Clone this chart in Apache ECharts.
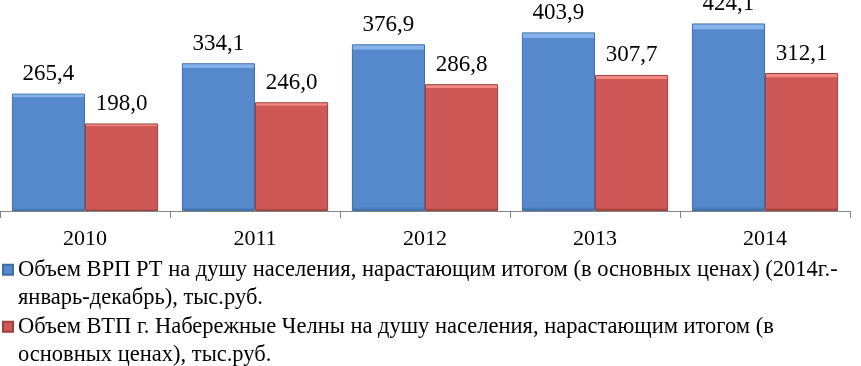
<!DOCTYPE html>
<html>
<head>
<meta charset="utf-8">
<script src="https://cdn.jsdelivr.net/npm/echarts@6/dist/echarts.min.js"></script>
<style>
html,body{margin:0;padding:0;background:#fff;}
#chart{width:861px;height:366px;}
</style>
</head>
<body>
<div id="chart"></div>
<script>
var categories = ['2010', '2011', '2012', '2013', '2014'];
var seriesNames = [
  'Объем ВРП РТ на душу населения, нарастающим итогом (в основных ценах) (2014г.-январь-декабрь), тыс.руб.',
  'Объем ВТП г. Набережные Челны на душу населения, нарастающим итогом (в основных ценах), тыс.руб.'
];
var legendLines = [
  ['Объем ВРП РТ на душу населения, нарастающим итогом (в основных ценах) (2014г.-', 'январь-декабрь), тыс.руб.'],
  ['Объем ВТП г. Набережные Челны на душу населения, нарастающим итогом (в', 'основных ценах), тыс.руб.']
];
var grpValues = [265.4, 334.1, 376.9, 403.9, 424.1];
var gtpValues = [198.0, 246.0, 286.8, 307.7, 312.1];

var FONT = 'Liberation Serif';

function barGradient(light, mid, dark) {
  return new echarts.graphic.LinearGradient(0, 0, 0, 1, [
    {offset: 0, color: light},
    {offset: 0.028, color: light},
    {offset: 0.034, color: mid},
    {offset: 0.975, color: mid},
    {offset: 1, color: dark}
  ]);
}
function fmt(v) { return v.toFixed(1).replace('.', ','); }

var chart = echarts.init(document.getElementById('chart'), null, {renderer: 'canvas'});

function makeLegend(idx, top) {
  return {
    orient: 'vertical',
    left: 2,
    top: top,
    padding: 0,
    icon: 'rect',
    itemWidth: 10,
    itemHeight: 10,
    data: [seriesNames[idx]],
    selectedMode: false,
    formatter: function () {
      return '\n' + legendLines[idx][0] + '\n' + legendLines[idx][1];
    },
    textStyle: {
      fontFamily: FONT,
      fontSize: 22.5,
      color: '#000',
      lineHeight: 28.5
    }
  };
}

chart.setOption({
  animation: false,
  backgroundColor: '#fff',
  textStyle: {fontFamily: FONT},
  grid: {left: 0, right: 11, top: 12, bottom: 155, containLabel: false},
  legend: [makeLegend(0, 227), makeLegend(1, 284)],
  xAxis: {
    type: 'category',
    data: categories,
    axisLine: {lineStyle: {color: '#868686', width: 1}},
    axisTick: {show: true, length: 7, lineStyle: {color: '#868686'}},
    axisLabel: {fontFamily: FONT, fontSize: 22, color: '#000', margin: 17}
  },
  yAxis: {
    type: 'value', min: 0, max: 450, show: false,
    splitLine: {show: false}
  },
  series: [
    {
      name: seriesNames[0],
      type: 'bar',
      data: grpValues,
      barGap: '0%',
      barCategoryGap: '14%',
      itemStyle: {
        color: barGradient('#86b3ec', '#5589cb', '#3d6aa3'),
        borderColor: '#3f6ea8',
        borderWidth: 1
      },
      label: {
        show: true, position: 'top', distance: 8,
        fontFamily: FONT, fontSize: 23, color: '#000',
        formatter: function (p) { return fmt(p.value); }
      }
    },
    {
      name: seriesNames[1],
      type: 'bar',
      data: gtpValues,
      itemStyle: {
        color: barGradient('#f28783', '#cd5855', '#8f3a38'),
        borderColor: '#9a403d',
        borderWidth: 1
      },
      label: {
        show: true, position: 'top', distance: 8,
        fontFamily: FONT, fontSize: 23, color: '#000',
        formatter: function (p) { return fmt(p.value); }
      }
    }
  ]
});
</script>
</body>
</html>
